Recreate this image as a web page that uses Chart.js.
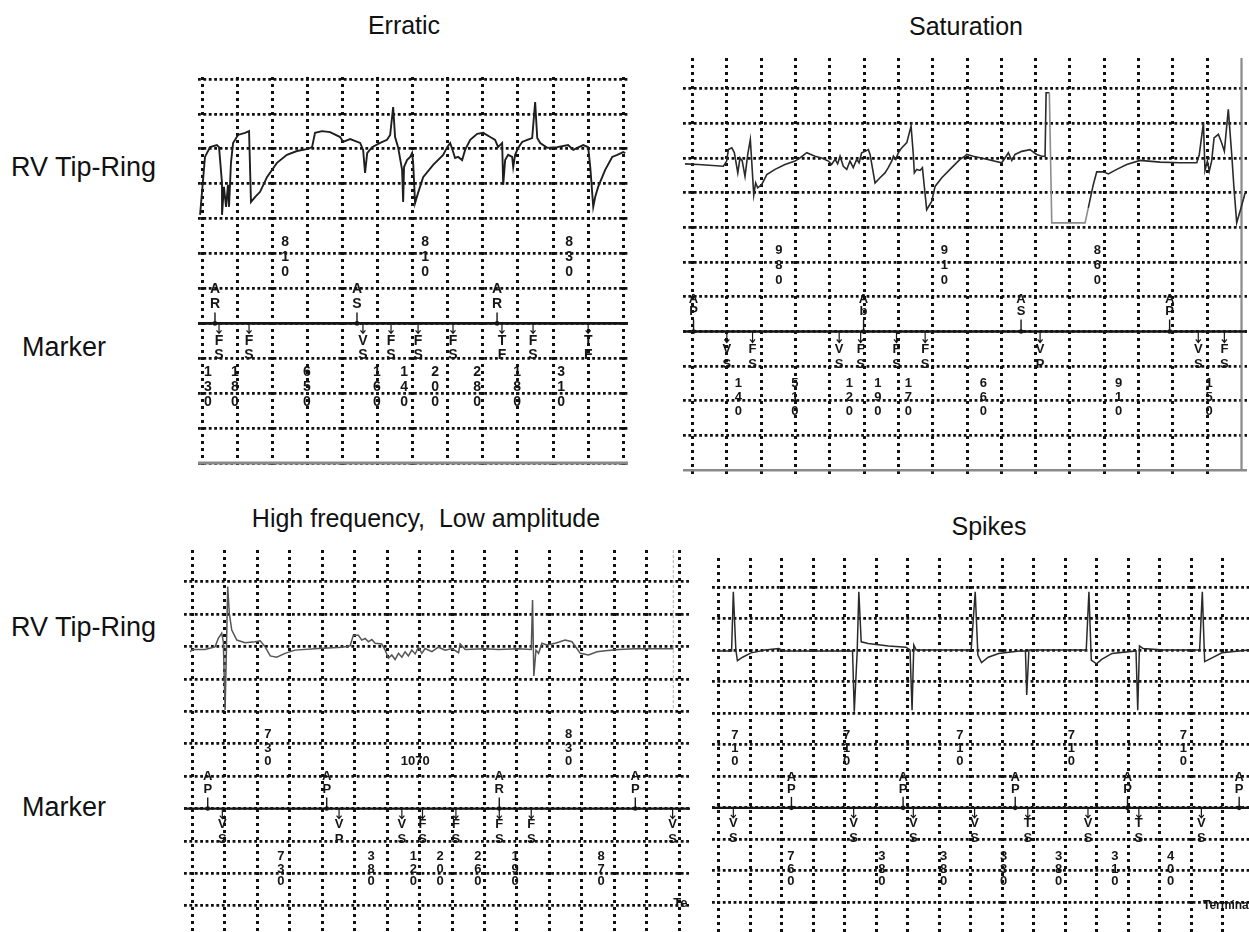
<!doctype html>
<html lang="en">
  <head>
    <meta charset="utf-8">
    <title>RV Tip-Ring noise patterns</title>
    <script src="https://cdn.jsdelivr.net/npm/chart.js/dist/chart.umd.min.js"></script>
    <style>
      * {
        margin: 0;
        padding: 0;
      }
      body {
        width: 1249px;
        height: 932px;
        position: relative;
        overflow: hidden;
        background: #fff;
        color: #111;
        font-family: "Liberation Sans", Arial, sans-serif;
      }
      .title {
        position: absolute;
        width: 440px;
        text-align: center;
        font-size: 25px;
        line-height: 25px;
        white-space: nowrap;
      }
      .side {
        position: absolute;
        font-size: 27px;
        line-height: 27px;
        white-space: nowrap;
      }
      .box {
        position: absolute;
      }
      .box canvas {
        display: block;
      }
    </style>
  </head>
  <body>
    <div class="title" style="left:184px; top:13px;">Erratic</div>
    <div class="title" style="left:746px; top:14px;">Saturation</div>
    <div class="title" style="left:206px; top:506px;">High frequency,&nbsp; Low amplitude</div>
    <div class="title" style="left:769px; top:514px;">Spikes</div>

    <div class="side" style="left:11px; top:154px;">RV Tip-Ring</div>
    <div class="side" style="left:22px; top:334px;">Marker</div>
    <div class="side" style="left:11px; top:614px;">RV Tip-Ring</div>
    <div class="side" style="left:22px; top:794px;">Marker</div>

    <div class="box" style="left:198px; top:77px;"><canvas id="erratic" width="430" height="391"></canvas></div>
    <div class="box" style="left:683px; top:58px;"><canvas id="saturation" width="564" height="416"></canvas></div>
    <div class="box" style="left:184px; top:550px;"><canvas id="hfla" width="506" height="382"></canvas></div>
    <div class="box" style="left:712px; top:558px;"><canvas id="spikes" width="537" height="374"></canvas></div>

    <script>
    // time in ms (one grid column = 200 ms), amplitude in grid rows (marker channel sits on row 4)

    // ---- Erratic ----
    const erraticTime = [-11,17,46,85,97,114,114,125,137,148,154,165,177,205,245,268,279,302,331,370,427,484,541,604,627,644,684,730,787,804,844,901,918,929,941,969,1015,1054,1072,1089,1100,1117,1140,1146,1151,1168,1186,1197,1203,1214,1231,1260,1317,1374,1397,1414,1431,1442,1459,1482,1499,1528,1568,1602,1642,1670,1687,1710,1716,1727,1744,1767,1773,1784,1801,1824,1853,1881,1898,1910,1927,1967,2024,2086,2115,2138,2172,2200,2212,2229,2240,2257,2297,2337,2366,2400,2411];
    const erraticVolt = [7.11,8.77,9.05,9.11,9.05,8.02,7.11,7.91,7.34,7.97,7.34,8.60,9.17,9.40,9.46,9.51,7.48,7.62,7.77,8.19,8.60,8.83,8.94,9.00,9.05,9.46,9.51,9.48,9.34,9.20,9.28,9.17,8.97,8.31,8.88,9.05,9.17,9.26,9.40,10.20,9.34,9.05,8.40,7.48,8.48,8.68,8.77,8.88,8.60,7.45,7.74,8.19,8.54,8.83,9.05,9.17,8.91,8.74,8.77,8.68,8.97,9.26,9.43,9.46,9.34,9.26,9.05,9.17,7.97,8.68,8.83,8.77,8.48,8.83,9.03,9.20,9.26,9.31,10.34,9.31,9.17,9.03,9.05,9.11,8.97,9.03,9.11,9.05,8.48,7.34,7.62,7.91,8.40,8.77,8.83,8.91,8.88];
    const erraticAtrialTimes = [74, 883, 1681];
    const erraticAtrialCodes = ['AR', 'AS', 'AR'];
    const erraticVentTimes = [97, 268, 917, 1077, 1231, 1430, 1709, 1886, 2200];
    const erraticVentCodes = ['FS', 'FS', 'VS', 'FS', 'FS', 'FS', 'TF', 'FS', 'TF'];
    const erraticAATimes = [473, 1271, 2091];
    const erraticAALabels = ['810', '810', '830'];
    const erraticVVTimes = [34, 188, 598, 997, 1151, 1328, 1567, 1795, 2046];
    const erraticVVLabels = ['130', '180', '650', '160', '140', '200', '280', '180', '310'];
    const erraticCols = [0,200,400,600,800,1000,1200,1400,1600,1800,2000,2200,2400];
    const erraticRows = [0,1,2,3,4,5,6,7,8,9,10,11];

    // ---- Saturation ----
    const saturationTime = [-44,34,180,199,209,229,244,264,277,290,306,322,337,345,357,368,380,403,433,481,539,598,627,666,714,753,792,811,831,846,860,879,899,918,937,957,971,986,1006,1025,1035,1064,1093,1122,1141,1161,1171,1185,1200,1219,1249,1274,1287,1293,1307,1326,1340,1365,1394,1414,1453,1511,1559,1588,1598,1637,1715,1802,1822,1841,1861,1880,1919,1967,2006,2036,2055,2061,2080,2094,2288,2307,2336,2356,2395,2424,2473,2531,2609,2725,2842,2939,2954,2978,2987,3001,3012,3026,3040,3065,3081,3100,3123,3143,3156,3172,3197,3221];
    const saturationVolt = [8.83,8.81,8.76,8.91,9.24,9.29,9.15,8.57,9.00,8.91,8.47,9.10,9.53,8.91,7.93,8.28,8.14,8.23,8.52,8.67,8.81,8.91,9.00,9.15,9.05,9.00,8.91,8.81,8.96,8.83,9.05,8.76,8.67,8.91,8.72,8.96,8.86,9.15,9.19,9.24,9.10,8.28,8.43,8.57,8.72,8.91,9.05,8.96,9.15,9.29,9.44,9.92,9.10,8.57,8.67,8.64,8.72,7.51,7.75,8.18,8.43,8.72,8.96,9.05,9.10,9.05,8.96,8.86,9.00,9.15,8.93,9.10,9.19,9.24,9.10,9.05,9.05,10.88,10.88,7.13,7.13,7.56,8.23,8.60,8.60,8.54,8.67,8.81,8.93,8.88,8.86,8.86,9.10,10.01,8.64,8.91,8.62,8.91,9.58,9.68,9.48,9.19,10.40,9.10,8.14,7.13,7.56,7.99];
    const saturationAtrialTimes = [6, 997, 1915, 2781];
    const saturationAtrialCodes = ['AP', 'Ab', 'AS', 'AP'];
    const saturationVentTimes = [200, 350, 855, 980, 1189, 1356, 2026, 2948, 3100];
    const saturationVentCodes = ['VS', 'FS', 'VS', 'FS', 'FS', 'FS', 'VP', 'VS', 'FS'];
    const saturationAATimes = [504, 1468, 2360];
    const saturationAALabels = ['980', '910', '860'];
    const saturationVVTimes = [267, 597, 914, 1081, 1258, 1696, 2483, 3011];
    const saturationVVLabels = ['140', '510', '120', '190', '170', '660', '910', '150'];
    const saturationCols = [0,200,400,600,800,1000,1200,1400,1600,1800,2000,2200,2400,2600,2800,3000];
    const saturationRows = [1,2,3,4,5,6,7,8,9,10,11];

    // ---- High frequency, low amplitude ----
    const hflaTime = [-14,6,78,140,160,181,191,202,210,218,228,243,274,325,387,418,449,480,520,571,633,777,921,972,992,1023,1044,1065,1085,1106,1126,1167,1188,1208,1229,1249,1270,1291,1311,1331,1352,1373,1393,1414,1434,1476,1516,1558,1599,1640,1650,1681,1804,1886,2009,2088,2096,2104,2117,2133,2154,2185,2236,2297,2339,2390,2441,2493,2544,2626,2729,2965];
    const hflaVolt = [8.84,8.91,8.91,8.99,9.25,9.41,9.15,7.04,8.89,10.85,10.02,9.51,9.20,9.12,9.15,9.18,8.99,8.71,8.67,8.79,8.89,8.94,8.98,9.02,9.35,9.35,9.20,9.25,9.15,9.22,9.10,9.08,8.89,8.64,8.74,8.60,8.79,8.67,8.84,8.71,8.89,8.77,8.98,8.79,8.94,8.84,8.98,8.89,8.94,8.81,9.08,8.91,8.93,8.91,8.93,8.91,10.44,8.09,8.89,8.79,9.10,9.05,9.10,9.20,9.15,8.79,8.74,8.84,8.87,8.91,8.93,8.93];
    const hflaAtrialTimes = [95, 828, 1891, 2729];
    const hflaAtrialCodes = ['AP', 'AP', 'AR', 'AP'];
    const hflaVentTimes = [185, 904, 1291, 1418, 1624, 1891, 2088, 2959];
    const hflaVentCodes = ['VS', 'VP', 'VS', 'FS', 'FS', 'FS', 'FS', 'VS'];
    const hflaAATimes = [465, 1373, 2318];
    const hflaAALabels = ['730', '1070', '830'];
    const hflaVVTimes = [545, 1102, 1362, 1527, 1759, 1989, 2519];
    const hflaVVLabels = ['730', '380', '120', '200', '260', '190', '870'];
    const hflaCols = [0,200,400,600,800,1000,1200,1400,1600,1800,2000,2200,2400,2600,2800,3000];
    const hflaRows = [1,2,3,4,5,6,7,8,9,10,11];

    // ---- Spikes ----
    const spikesTime = [-13,80,91,107,117,150,204,292,379,412,597,848,859,877,888,903,947,1077,1187,1213,1226,1237,1252,1601,1627,1644,1667,1710,1776,1907,1946,1954,1968,2124,2332,2349,2364,2397,2430,2496,2648,2659,2670,2692,2823,3052,3069,3084,3128,3194,3364];
    const spikesVolt = [8.98,8.98,10.86,9.01,8.67,8.78,8.92,9.01,9.06,8.98,8.98,8.98,7.05,8.90,10.86,9.27,9.22,9.14,9.10,9.01,7.10,9.17,9.01,9.01,10.86,8.85,8.61,8.78,8.90,8.98,8.98,7.58,9.01,9.01,9.01,10.86,8.69,8.57,8.71,8.90,8.98,7.10,9.14,9.06,9.01,9.01,10.86,8.64,8.75,8.92,9.01];
    const spikesAtrialTimes = [460, 1169, 1881, 2594, 3303];
    const spikesAtrialCodes = ['AP', 'AP', 'AP', 'AP', 'AP'];
    const spikesVentTimes = [91, 855, 1234, 1623, 1961, 2343, 2666, 3063];
    const spikesVentCodes = ['VS', 'VS', 'VS', 'VS', 'TS', 'VS', 'TS', 'VS'];
    const spikesAATimes = [100, 811, 1529, 2238, 2949];
    const spikesAALabels = ['710', '710', '710', '710', '710'];
    const spikesVVTimes = [456, 1034, 1427, 1808, 2157, 2513, 2867];
    const spikesVVLabels = ['760', '380', '380', '330', '380', '310', '400'];
    const spikesCols = [0,200,400,600,800,1000,1200,1400,1600,1800,2000,2200,2400,2600,2800,3000,3200];
    const spikesRows = [1,2,3,4,5,6,7,8,9,10,11];

    const markerRow = 4;
    const ink = '#151515';


    function points(times, volts) {
        return times.map((t, i) => ({x: t, y: volts[i]}));
    }

    // draws the marker channel annotations (event codes, stems, interval numbers)
    const markerPlugin = {
        id: 'markers',
        afterDatasetsDraw(chart, args, o) {
            const {ctx, scales: {x, y}} = chart;
            const base = y.getPixelForValue(markerRow);
            ctx.save();
            ctx.fillStyle = ink;
            ctx.strokeStyle = ink;
            ctx.font = o.font;
            ctx.textAlign = 'center';
            ctx.textBaseline = 'middle';

            // atrial events: stem up from the line
            o.upTimes.forEach((t, i) => {
                const px = x.getPixelForValue(t);
                ctx.lineWidth = 1.4;
                ctx.beginPath();
                ctx.moveTo(px, base);
                ctx.lineTo(px, base - o.stem);
                ctx.stroke();
                ctx.beginPath();
                ctx.arc(px, base, 2.3, 0, Math.PI * 2);
                ctx.fill();
                const code = o.upCodes[i];
                ctx.fillText(code[0], px, base + o.upText[0]);
                ctx.fillText(code[1], px, base + o.upText[1]);
            });

            // ventricular events: stem down with a small arrow
            o.downTimes.forEach((t, i) => {
                const px = x.getPixelForValue(t);
                ctx.lineWidth = 1.2;
                ctx.beginPath();
                ctx.moveTo(px, base);
                ctx.lineTo(px, base + o.stem - 1);
                ctx.moveTo(px - 2.5, base + o.stem - 4);
                ctx.lineTo(px, base + o.stem - 1);
                ctx.lineTo(px + 2.5, base + o.stem - 4);
                ctx.stroke();
                const code = o.downCodes[i];
                ctx.fillText(code[0], px, base + o.downText[0]);
                ctx.fillText(code[1], px, base + o.downText[1]);
            });

            // interval numbers, printed one digit under the other
            const stacked = (label, px, top, gap, flat) => {
                if (flat) {
                    ctx.fillText(label, px, top + 2 * gap);
                    return;
                }
                label.split('').forEach((ch, k) => ctx.fillText(ch, px, top + k * gap));
            };
            o.aaTimes.forEach((t, i) => {
                stacked(o.aaLabels[i], x.getPixelForValue(t), base + o.aaTop, o.aaGap, o.aaLabels[i].length > 3);
            });
            o.vvTimes.forEach((t, i) => {
                stacked(o.vvLabels[i], x.getPixelForValue(t), base + o.vvTop, o.vvGap, false);
            });

            if (o.note) {
                ctx.font = o.noteFont;
                ctx.textAlign = 'left';
                ctx.fillText(o.note.text, x.getPixelForValue(o.note.t), y.getPixelForValue(o.note.row));
            }
            ctx.restore();
        }
    };

    function createPanel(id, p) {
        const datasets = [
            {
                data: points(p.time, p.volt),
                borderColor: p.traceColor,
                borderWidth: p.traceWidth,
                segment: p.segment
            },
            {
                // marker channel baseline
                data: [{x: p.xMin, y: markerRow}, {x: p.xMax, y: markerRow}],
                borderColor: ink,
                borderWidth: p.baseWidth
            }
        ].concat(p.extra || []);
        datasets.forEach(d => {
            d.showLine = true;
            d.pointRadius = 0;
            d.tension = 0;
            d.fill = false;
        });

        return new Chart(document.getElementById(id), {
            type: 'scatter',
            data: { datasets },
            options: {
                responsive: false,
                animation: false,
                events: [],
                layout: { padding: 0, autoPadding: false },
                plugins: {
                    legend: { display: false },
                    tooltip: { enabled: false },
                    markers: p.markers
                },
                scales: {
                    x: {
                        type: 'linear',
                        min: p.xMin,
                        max: p.xMax,
                        afterBuildTicks: axis => { axis.ticks = p.cols.map(v => ({value: v})); },
                        ticks: { display: false },
                        border: { display: false, dash: [3, 4] },
                        grid: { color: '#101010', lineWidth: 3, drawTicks: false }
                    },
                    y: {
                        type: 'linear',
                        min: p.yMin,
                        max: p.yMax,
                        afterBuildTicks: axis => { axis.ticks = p.rows.map(v => ({value: v})); },
                        ticks: { display: false },
                        border: { display: false, dash: [2.8, 2.6] },
                        grid: { color: '#101010', lineWidth: 2.8, drawTicks: false }
                    }
                }
            },
            plugins: [markerPlugin]
        });
    }

    const boldFont = size => 'bold ' + size + 'px "Liberation Sans", Arial, sans-serif';

    createPanel('erratic', {
        time: erraticTime, volt: erraticVolt,
        cols: erraticCols, rows: erraticRows,
        xMin: -22.8, xMax: 2427, yMin: -0.143, yMax: 11.06,
        traceColor: '#1e1e1e', traceWidth: 1.9, baseWidth: 2.6,
        extra: [
            { data: [{x: -40, y: 0}, {x: 2440, y: 0}], borderColor: '#8a8a8a', borderWidth: 3.2 }
        ],
        markers: {
            font: boldFont(14), stem: 11,
            upTimes: erraticAtrialTimes, upCodes: erraticAtrialCodes, upText: [-34, -19],
            downTimes: erraticVentTimes, downCodes: erraticVentCodes, downText: [18, 32],
            aaTimes: erraticAATimes, aaLabels: erraticAALabels, aaTop: -81, aaGap: 15,
            vvTimes: erraticVVTimes, vvLabels: erraticVVLabels, vvTop: 49, vvGap: 15
        }
    });

    createPanel('saturation', {
        time: saturationTime, volt: saturationVolt,
        cols: saturationCols, rows: saturationRows,
        xMin: -55.4, xMax: 3232, yMin: -0.107, yMax: 11.88,
        traceColor: '#2a2a2a', traceWidth: 1.6, baseWidth: 2.6,
        // the clipped (saturated) part of the signal prints lighter
        segment: {
            borderColor: c => (c.p0.parsed.x >= 2080 && c.p1.parsed.x <= 2310) ? '#8c8c8c' : undefined
        },
        extra: [
            { data: [{x: -80, y: 0}, {x: 3240, y: 0}], borderColor: '#8a8a8a', borderWidth: 2.4 },
            { data: [{x: 3200, y: 0}, {x: 3200, y: 12}], borderColor: '#8a8a8a', borderWidth: 2.2 }
        ],
        markers: {
            font: boldFont(13), stem: 12,
            upTimes: saturationAtrialTimes, upCodes: saturationAtrialCodes, upText: [-32, -20],
            downTimes: saturationVentTimes, downCodes: saturationVentCodes, downText: [18, 33],
            aaTimes: saturationAATimes, aaLabels: saturationAALabels, aaTop: -81, aaGap: 15,
            vvTimes: saturationVVTimes, vvLabels: saturationVVLabels, vvTop: 52, vvGap: 14
        }
    });

    createPanel('hfla', {
        time: hflaTime, volt: hflaVolt,
        cols: hflaCols, rows: hflaRows,
        xMin: -51.2, xMax: 3066, yMin: 0.19, yMax: 11.98,
        traceColor: '#555555', traceWidth: 1.5, baseWidth: 2.2,
        extra: [
            { data: [{x: 2963, y: 7.1}, {x: 2963, y: 12}], borderColor: '#b0b0b0', borderWidth: 1, borderDash: [3, 2] }
        ],
        markers: {
            font: boldFont(13), stem: 11,
            upTimes: hflaAtrialTimes, upCodes: hflaAtrialCodes, upText: [-32, -19],
            downTimes: hflaVentTimes, downCodes: hflaVentCodes, downText: [16, 31],
            aaTimes: hflaAATimes, aaLabels: hflaAALabels, aaTop: -74, aaGap: 13.5,
            vvTimes: hflaVVTimes, vvLabels: hflaVVLabels, vvTop: 48, vvGap: 12.5,
            note: { text: 'Te', t: 2963, row: 1.08 }, noteFont: boldFont(13)
        }
    });

    createPanel('spikes', {
        time: spikesTime, volt: spikesVolt,
        cols: spikesCols, rows: spikesRows,
        xMin: -44.4, xMax: 3365.5, yMin: 0.06, yMax: 11.93,
        traceColor: '#2a2a2a', traceWidth: 1.5, baseWidth: 2.2,
        markers: {
            font: boldFont(13), stem: 11,
            upTimes: spikesAtrialTimes, upCodes: spikesAtrialCodes, upText: [-30, -18],
            downTimes: spikesVentTimes, downCodes: spikesVentCodes, downText: [16, 31],
            aaTimes: spikesAATimes, aaLabels: spikesAALabels, aaTop: -72, aaGap: 13,
            vvTimes: spikesVVTimes, vvLabels: spikesVVLabels, vvTop: 49, vvGap: 12.5,
            note: { text: 'Termina', t: 3073, row: 0.88 }, noteFont: boldFont(12)
        }
    });

    </script>
  </body>
</html>
